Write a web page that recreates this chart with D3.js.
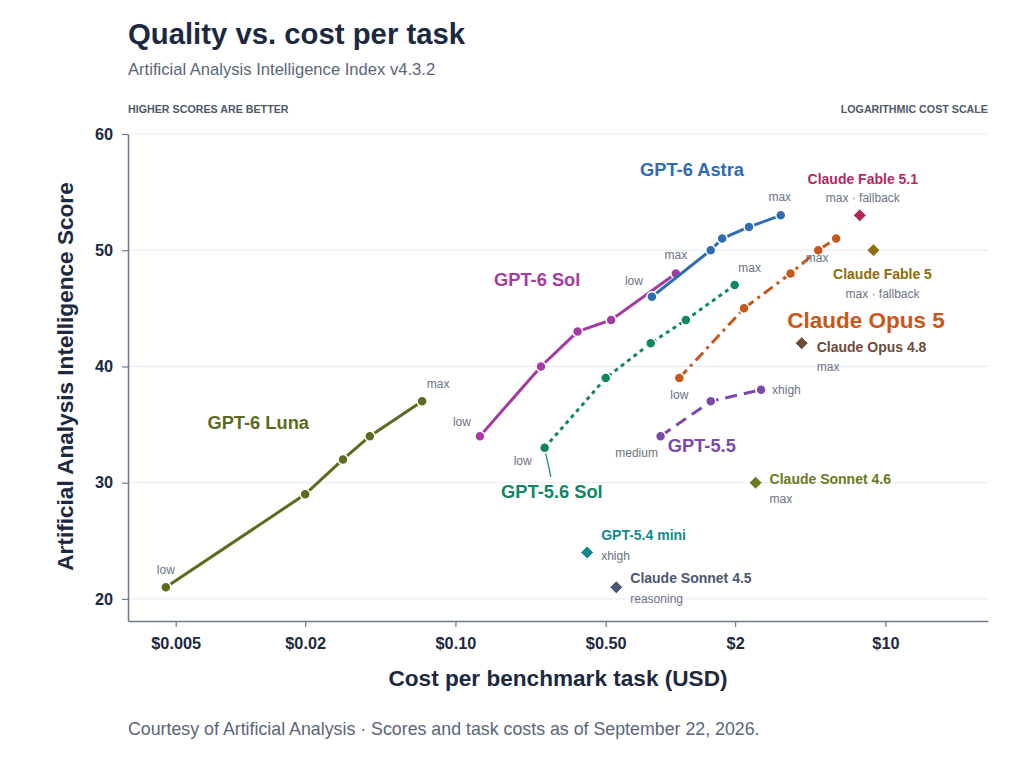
<!DOCTYPE html>
<html>
<head>
<meta charset="utf-8">
<script src="https://cdn.jsdelivr.net/npm/d3@7"></script>
<style>
  body { margin: 0; background: #fff; font-family: "Liberation Sans", Arial, sans-serif; }
</style>
</head>
<body>
<div class="chart"></div>
<script>
// axis ticks
var xTicks = [0.005, 0.02, 0.1, 0.5, 2, 10];
var xTickLabels = ["$0.005", "$0.02", "$0.10", "$0.50", "$2", "$10"];
var yTicks = [20, 30, 40, 50, 60];

// effort sweeps: cost per task (USD) and score
var lunaCost = [0.0045, 0.020, 0.030, 0.040, 0.070];
var lunaScore = [21, 29, 32, 34, 37];
var solCost = [0.13, 0.25, 0.37, 0.53, 1.06];
var solScore = [34, 40, 43, 44, 48];
var astraCost = [0.82, 1.54, 1.74, 2.32, 3.26];
var astraScore = [46, 50, 51, 52, 53];
var sol56Cost = [0.26, 0.50, 0.81, 1.18, 1.99];
var sol56Score = [33, 39, 42, 44, 47];
var opus5Cost = [1.10, 2.20, 3.62, 4.87, 5.9];
var opus5Score = [39, 45, 48, 50, 51];
var gpt55Cost = [0.90, 1.54, 2.64];
var gpt55Score = [34, 37, 38];

var seriesNames = ["GPT-6 Luna", "GPT-6 Sol", "GPT-6 Astra", "GPT-5.6 Sol", "Claude Opus 5", "GPT-5.5"];
var seriesCosts = [lunaCost, solCost, astraCost, sol56Cost, opus5Cost, gpt55Cost];
var seriesScores = [lunaScore, solScore, astraScore, sol56Score, opus5Score, gpt55Score];
var seriesLowLabel = ["low", "low", "low", "low", "low", "medium"];
var seriesHighLabel = ["max", "max", "max", "max", "max", "xhigh"];

// single configurations
var singleNames = ["Claude Fable 5.1", "Claude Fable 5", "Claude Opus 4.8", "Claude Sonnet 4.6", "GPT-5.4 mini", "Claude Sonnet 4.5"];
var singleNotes = ["max · fallback", "max · fallback", "max", "max", "xhigh", "reasoning"];
var singleCost = [7.6, 8.8, 4.08, 2.49, 0.41, 0.56];
var singleScore = [53, 50, 42, 30, 24, 21];

// look of each sweep (label anchor in data space, end label offsets in px)
var seriesStyle = [
  { color: "#5c6b1f", dash: null,          size: 18.3, lx: 0.0121, ly: 34.6, low: [0, -13, "middle"],  high: [16, -13, "middle"] },
  { color: "#a53ba2", dash: null,          size: 18.3, lx: 0.240,  ly: 46.9, low: [-18, -10, "middle"], high: [0, -14, "middle"] },
  { color: "#2f6cb3", dash: null,          size: 18.3, lx: 1.26,   ly: 56.4, low: [-18, -12, "middle"], high: [-1, -14, "middle"] },
  { color: "#0e8763", dash: "4,4",         size: 18.3, lx: 0.281,  ly: 28.7, low: [-22, 17, "middle"],  high: [15, -13, "middle"] },
  { color: "#c9571a", dash: "11,5,3,5",    size: 22.5, lx: 8.12,   ly: 43.3, low: [0, 21, "middle"],    high: [-19, 23, "middle"] },
  { color: "#7b4aa8", dash: "12,7",        size: 18.3, lx: 1.40,   ly: 32.6, low: [-24, 21, "middle"],  high: [11, 4, "start"] }
];
var singleStyle = [
  { color: "#b3285e", name: [3, -31, "middle"], note: [3, -13, "middle"] },
  { color: "#8e6d0a", name: [9, 29, "middle"],  note: [9, 48, "middle"] },
  { color: "#6e4a37", name: [15, 9, "start"],   note: [15, 28, "start"] },
  { color: "#6b7b22", name: [14, 1, "start"],   note: [14, 20, "start"] },
  { color: "#118a8c", name: [14, -12, "start"], note: [14, 8, "start"] },
  { color: "#4b5670", name: [14, -4, "start"],  note: [14, 16, "start"] }
];

var svgWidth = 1024;
var svgHeight = 768;
var margin = { top: 134, right: 36, bottom: 147, left: 128 };
var width = svgWidth - margin.left - margin.right;
var height = svgHeight - margin.top - margin.bottom;

var ink = "#1c2940";
var muted = "#5b6578";
var small = "#6b7386";

var svg = d3.select(".chart")
  .append("svg")
  .attr("width", svgWidth)
  .attr("height", svgHeight);

// header texts
svg.append("text").attr("x", 128).attr("y", 44)
  .attr("font-size", 29.3).attr("font-weight", "bold").attr("fill", ink)
  .text("Quality vs. cost per task");
svg.append("text").attr("x", 128).attr("y", 75)
  .attr("font-size", 16.6).attr("fill", muted)
  .text("Artificial Analysis Intelligence Index v4.3.2");
svg.append("text").attr("x", 128).attr("y", 113)
  .attr("font-size", 10.7).attr("font-weight", "bold").attr("fill", "#4d5869")
  .text("HIGHER SCORES ARE BETTER");
svg.append("text").attr("x", 988).attr("y", 113).attr("text-anchor", "end")
  .attr("font-size", 10.7).attr("font-weight", "bold").attr("fill", "#4d5869")
  .text("LOGARITHMIC COST SCALE");
svg.append("text").attr("x", 128).attr("y", 735)
  .attr("font-size", 17.8).attr("fill", muted)
  .text("Courtesy of Artificial Analysis · Scores and task costs as of September 22, 2026.");

var chartGroup = svg.append("g")
  .attr("transform", `translate(${margin.left}, ${margin.top})`);

var x = d3.scaleLog().domain([0.003, 30]).range([0, width]);
var y = d3.scaleLinear().domain([18.1, 60]).range([height, 0]);

// gridlines
chartGroup.selectAll("line.grid")
  .data(yTicks)
  .enter()
  .append("line")
  .attr("class", "grid")
  .attr("x1", 0).attr("x2", width)
  .attr("y1", d => y(d)).attr("y2", d => y(d))
  .attr("stroke", "#e7eaef").attr("stroke-width", 1);

// axes
var bottomAxis = d3.axisBottom(x)
  .tickValues(xTicks)
  .tickFormat((d, i) => xTickLabels[i])
  .tickSize(6).tickSizeOuter(0).tickPadding(10);
var leftAxis = d3.axisLeft(y)
  .tickValues(yTicks)
  .tickSize(6).tickSizeOuter(0).tickPadding(9);

var gx = chartGroup.append("g")
  .attr("transform", `translate(0, ${height})`)
  .call(bottomAxis);
var gy = chartGroup.append("g")
  .call(leftAxis);

[gx, gy].forEach(function(g) {
  g.select(".domain").attr("stroke", "#6b7890").attr("stroke-width", 1.5);
  g.selectAll(".tick line").attr("stroke", "#6b7890").attr("stroke-width", 1.2);
  g.selectAll(".tick text")
    .attr("font-family", "\"Liberation Sans\", Arial, sans-serif")
    .attr("font-size", 16.3).attr("font-weight", "bold").attr("fill", ink);
});

// axis titles
chartGroup.append("text")
  .attr("transform", "rotate(-90)")
  .attr("x", 0 - height / 2 + 1)
  .attr("y", -55)
  .attr("text-anchor", "middle")
  .attr("font-size", 22.6).attr("font-weight", "bold").attr("fill", ink)
  .text("Artificial Analysis Intelligence Score");

chartGroup.append("text")
  .attr("x", width / 2)
  .attr("y", 552)
  .attr("text-anchor", "middle")
  .attr("font-size", 22.6).attr("font-weight", "bold").attr("fill", ink)
  .text("Cost per benchmark task (USD)");

// sweeps
var line = d3.line()
  .x(d => x(d[0]))
  .y(d => y(d[1]));

seriesNames.forEach(function(name, i) {
  var st = seriesStyle[i];
  var pts = seriesCosts[i].map((c, j) => [c, seriesScores[i][j]]);
  var g = chartGroup.append("g");

  g.append("path")
    .datum(pts)
    .attr("d", line)
    .attr("fill", "none")
    .attr("stroke", st.color)
    .attr("stroke-width", 3)
    .attr("stroke-dasharray", st.dash)
    .attr("stroke-linecap", "butt");

  g.selectAll("circle")
    .data(pts)
    .enter()
    .append("circle")
    .attr("cx", d => x(d[0]))
    .attr("cy", d => y(d[1]))
    .attr("r", 5)
    .attr("fill", st.color)
    .attr("stroke", "#fff")
    .attr("stroke-width", 1.5);

  var first = pts[0], last = pts[pts.length - 1];
  g.append("text")
    .attr("x", x(first[0]) + st.low[0])
    .attr("y", y(first[1]) + st.low[1])
    .attr("text-anchor", st.low[2])
    .attr("font-size", 12).attr("fill", small)
    .text(seriesLowLabel[i]);
  g.append("text")
    .attr("x", x(last[0]) + st.high[0])
    .attr("y", y(last[1]) + st.high[1])
    .attr("text-anchor", st.high[2])
    .attr("font-size", 12).attr("fill", small)
    .text(seriesHighLabel[i]);

  g.append("text")
    .attr("x", x(st.lx))
    .attr("y", y(st.ly))
    .attr("text-anchor", "middle")
    .attr("font-size", st.size).attr("font-weight", "bold")
    .attr("fill", st.color)
    .text(name);

  // GPT-5.6 Sol has a leader line from its low point down to the name
  if (name === "GPT-5.6 Sol") {
    g.insert("line", "circle")
      .attr("x1", x(first[0]) + 1).attr("y1", y(first[1]) + 5)
      .attr("x2", x(st.lx) - 1).attr("y2", y(st.ly) - 21)
      .attr("stroke", st.color).attr("stroke-width", 1.2);
  }
});

// single configurations as diamonds
var singles = chartGroup.selectAll("g.single")
  .data(singleNames)
  .enter()
  .append("g")
  .attr("class", "single")
  .attr("transform", (d, i) => `translate(${x(singleCost[i])}, ${y(singleScore[i])})`);

singles.append("path")
  .attr("d", "M0,-6.5L6.5,0L0,6.5L-6.5,0Z")
  .attr("fill", (d, i) => singleStyle[i].color)
  .attr("stroke", "#fff")
  .attr("stroke-width", 1);

singles.append("text")
  .attr("x", (d, i) => singleStyle[i].name[0])
  .attr("y", (d, i) => singleStyle[i].name[1])
  .attr("text-anchor", (d, i) => singleStyle[i].name[2])
  .attr("font-size", 14).attr("font-weight", "bold")
  .attr("fill", (d, i) => singleStyle[i].color)
  .text(d => d);

singles.append("text")
  .attr("x", (d, i) => singleStyle[i].note[0])
  .attr("y", (d, i) => singleStyle[i].note[1])
  .attr("text-anchor", (d, i) => singleStyle[i].note[2])
  .attr("font-size", 12).attr("fill", small)
  .text((d, i) => singleNotes[i]);
</script>
</body>
</html>
